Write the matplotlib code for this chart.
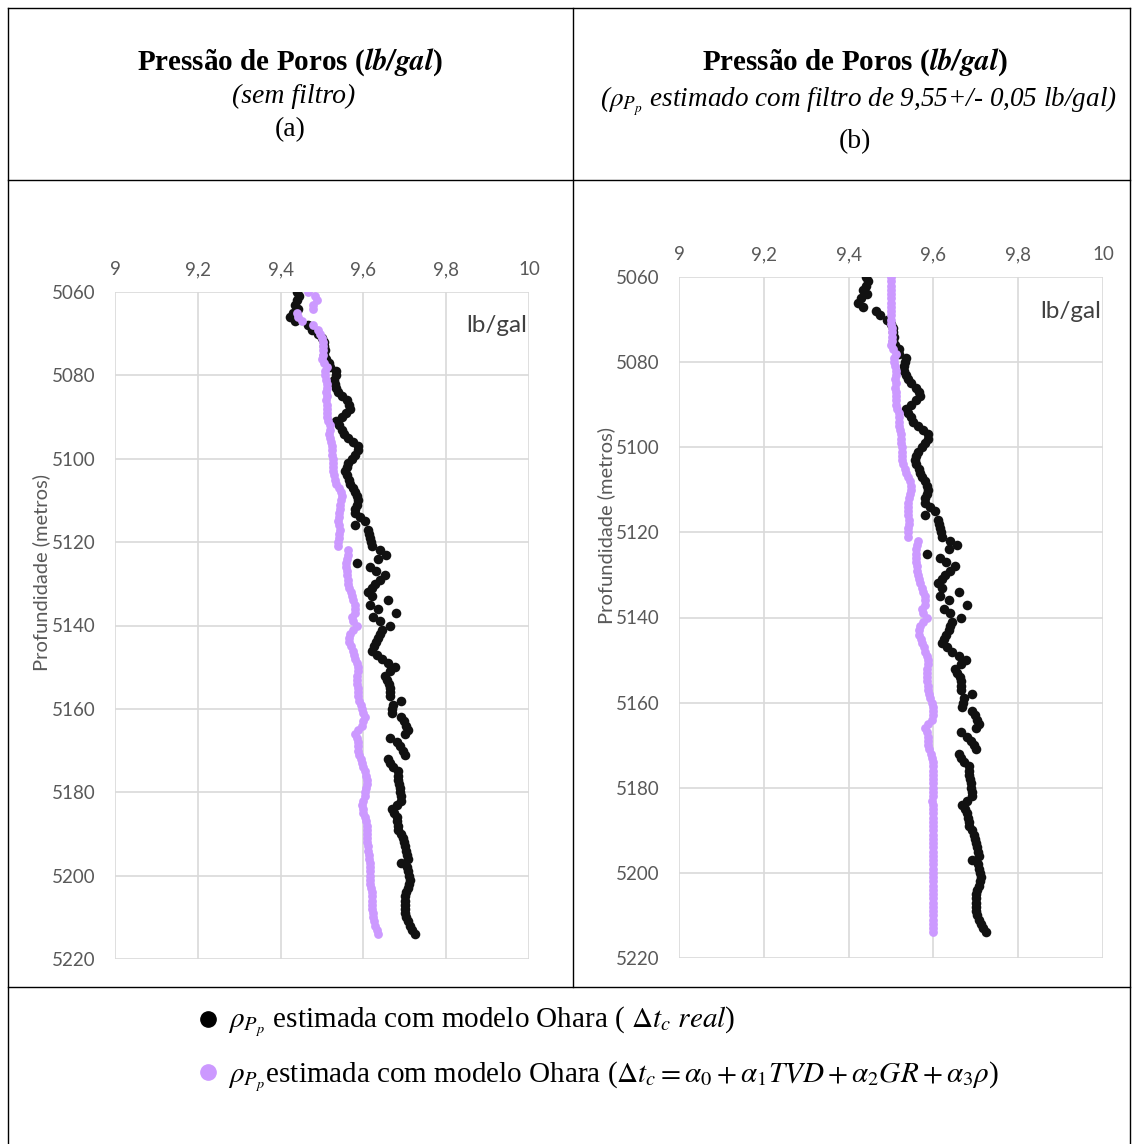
import numpy as np
import matplotlib
matplotlib.use('Agg')
import matplotlib.pyplot as plt
from matplotlib.lines import Line2D
from matplotlib.ticker import FuncFormatter

plt.rcParams['mathtext.fontset'] = 'stix'

# profundidade (m) e pressao de poros (lb/gal)
profundidade = np.arange(5060, 5215)

# modelo Ohara com dt real (pontos pretos)
pp_real = [
    9.440, 9.445, 9.440, 9.435, 9.443, 9.430, 9.423, 9.435, 9.465, 9.475,
    9.490, 9.500, 9.505, 9.505, 9.508, 9.505, 9.510, 9.518, 9.520, 9.535,
    9.534, 9.530, 9.531, 9.535, 9.539, 9.548, 9.560, 9.565, 9.568, 9.558,
    9.548, 9.535, 9.540, 9.548, 9.552, 9.564, 9.575, 9.588, 9.588, 9.580,
    9.572, 9.564, 9.560, 9.556, 9.560, 9.565, 9.568, 9.574, 9.580, 9.584,
    9.588, 9.585, 9.580, 9.580, 9.592, 9.604, 9.580, 9.612, 9.614, 9.616,
    9.618, 9.620, 9.640, 9.655, 9.636, 9.585, 9.616, 9.630, 9.652, 9.640,
    9.628, 9.620, 9.612, 9.620, 9.660, 9.616, 9.636, 9.679, 9.624, 9.640,
    9.664, 9.644, 9.640, 9.636, 9.630, 9.625, 9.620, 9.632, 9.645, 9.660,
    9.676, 9.664, 9.652, 9.656, 9.662, 9.664, 9.665, 9.664, 9.692, 9.672,
    9.670, 9.668, 9.692, 9.698, 9.704, 9.708, 9.700, 9.664, 9.680, 9.688,
    9.695, 9.700, 9.660, 9.665, 9.672, 9.684, 9.684, 9.684, 9.686, 9.688,
    9.688, 9.690, 9.692, 9.680, 9.668, 9.674, 9.680, 9.682, 9.684, 9.684,
    9.690, 9.696, 9.698, 9.700, 9.702, 9.706, 9.708, 9.692, 9.705, 9.708,
    9.710, 9.713, 9.710, 9.708, 9.702, 9.700, 9.700, 9.700, 9.700, 9.700,
    9.703, 9.708, 9.712, 9.718, 9.725,
]

# modelo Ohara com dt estimado por regressao (pontos lilas)
pp_regressao = [
    9.467, 9.483, 9.487, 9.478, 9.479, 9.440, 9.443, 9.452, 9.479, 9.490,
    9.495, 9.499, 9.502, 9.503, 9.503, 9.502, 9.500, 9.505, 9.511, 9.508,
    9.507, 9.509, 9.511, 9.511, 9.510, 9.511, 9.510, 9.511, 9.512, 9.511,
    9.511, 9.515, 9.519, 9.519, 9.518, 9.519, 9.521, 9.523, 9.523, 9.524,
    9.526, 9.527, 9.527, 9.527, 9.529, 9.532, 9.535, 9.540, 9.545, 9.548,
    9.546, 9.544, 9.543, 9.541, 9.540, 9.539, 9.541, 9.543, 9.542, 9.540,
    9.539, 9.539, 9.564, 9.562, 9.560, 9.559, 9.559, 9.560, 9.561, 9.562,
    9.563, 9.566, 9.569, 9.572, 9.576, 9.580, 9.580, 9.580, 9.572, 9.576,
    9.584, 9.576, 9.568, 9.565, 9.566, 9.570, 9.574, 9.578, 9.580, 9.584,
    9.588, 9.587, 9.585, 9.584, 9.585, 9.586, 9.587, 9.588, 9.590, 9.593,
    9.596, 9.598, 9.604, 9.600, 9.596, 9.588, 9.580, 9.584, 9.588, 9.588,
    9.588, 9.590, 9.594, 9.597, 9.600, 9.604, 9.606, 9.608, 9.608, 9.607,
    9.605, 9.604, 9.600, 9.596, 9.598, 9.600, 9.603, 9.606, 9.608, 9.608,
    9.608, 9.608, 9.609, 9.610, 9.612, 9.613, 9.614, 9.616, 9.616, 9.616,
    9.616, 9.616, 9.617, 9.619, 9.620, 9.620, 9.620, 9.620, 9.621, 9.622,
    9.624, 9.626, 9.629, 9.633, 9.636,
]

# filtro 9,55 +/- 0,05 lb/gal
filtro_min, filtro_max = 9.50, 9.60
pp_filtrado = np.clip(pp_regressao, filtro_min, filtro_max)

x_ticks = [9, 9.2, 9.4, 9.6, 9.8, 10]
y_ticks = [5060, 5080, 5100, 5120, 5140, 5160, 5180, 5200, 5220]

preto = '#111111'
lilas = '#cc99ff'
cinza = '#595959'

W, H = 1132, 1144
fig = plt.figure(figsize=(W / 100, H / 100), dpi=100)


def fx(px):
    return px / W


def fy(py):
    return 1 - py / H


# linhas da tabela
def linha(x0, y0, x1, y1):
    fig.add_artist(Line2D([fx(x0), fx(x1)], [fy(y0), fy(y1)], color='black', lw=1.0))


linha(8, 8, 1130, 8)
linha(8, 180, 1130, 180)
linha(8, 987, 1130, 987)
linha(8, 8, 8, 1144)
linha(1130, 8, 1130, 1144)
linha(573, 8, 573, 987)

serif = 'Liberation Serif'
virgula = FuncFormatter(lambda v, _: f'{v:g}'.replace('.', ','))


def painel(rect, valores_pp, label_x, label_y):
    ax = fig.add_axes(rect)
    ax.scatter(pp_real, profundidade, s=48, color=preto, zorder=3, linewidths=0)
    ax.scatter(valores_pp, profundidade, s=40, color=lilas, zorder=4, linewidths=0)
    ax.set_xlim(9, 10)
    ax.set_ylim(5220, 5060)
    ax.set_xticks(x_ticks)
    ax.set_yticks(y_ticks)
    ax.xaxis.set_major_formatter(virgula)
    ax.xaxis.tick_top()
    ax.tick_params(length=0, labelsize=13.5, labelcolor=cinza)
    ax.tick_params(axis='x', pad=10)
    ax.tick_params(axis='y', pad=14)
    for lab in ax.get_xticklabels() + ax.get_yticklabels():
        lab.set_fontfamily('Lato')
    ax.grid(True, color='#d9d9d9', lw=1.2)
    ax.set_axisbelow(True)
    for s in ax.spines.values():
        s.set_visible(False)
    ax.set_ylabel('Profundidade (metros)', fontsize=14.5, color=cinza, family='Lato')
    ax.yaxis.set_label_coords(label_x, label_y)
    ax.text(0.995, 0.965, 'lb/gal', transform=ax.transAxes, ha='right', va='top',
            fontsize=17.5, color='#404040', family='Lato')
    return ax


painel([fx(115), fy(959), 414 / W, 667 / H], pp_regressao, -0.157, 0.58)
painel([fx(679), fy(958), 424 / W, 681 / H], pp_filtrado, -0.151, 0.635)

# cabecalhos
tit = r'Pressão de Poros ($\mathbfit{lb/gal}$)'
fig.text(fx(290), fy(62), tit, ha='center', va='center', fontsize=21,
         family=serif, weight='bold')
fig.text(fx(294), fy(96), '(sem filtro)', ha='center', va='center', fontsize=20,
         family=serif, style='italic')
fig.text(fx(290), fy(130), '(a)', ha='center', va='center', fontsize=20, family=serif)

fig.text(fx(855), fy(62), tit, ha='center', va='center', fontsize=21,
         family=serif, weight='bold')
fig.text(fx(858), fy(101), r'($\rho_{P_p}$ estimado com filtro de 9,55+/- 0,05 lb/gal)',
         ha='center', va='center', fontsize=19.5, family=serif, style='italic')
fig.text(fx(855), fy(142), '(b)', ha='center', va='center', fontsize=20, family=serif)

# legenda
fig.add_artist(Line2D([fx(208)], [fy(1019)], marker='o', ms=11, color='black', lw=0))
fig.add_artist(Line2D([fx(208)], [fy(1072)], marker='o', ms=11, color=lilas, lw=0))
fig.text(fx(228), fy(1022), r'$\rho_{P_p}$ estimada com modelo Ohara ( $\Delta t_c\ real$)',
         ha='left', va='center', fontsize=21, family=serif)
fig.text(fx(228), fy(1077),
         r'$\rho_{P_p}$estimada com modelo Ohara ($\Delta t_c = \alpha_0 + \alpha_1 TVD + \alpha_2 GR + \alpha_3\rho$)',
         ha='left', va='center', fontsize=21, family=serif)

fig.savefig('out.png', dpi=100)
